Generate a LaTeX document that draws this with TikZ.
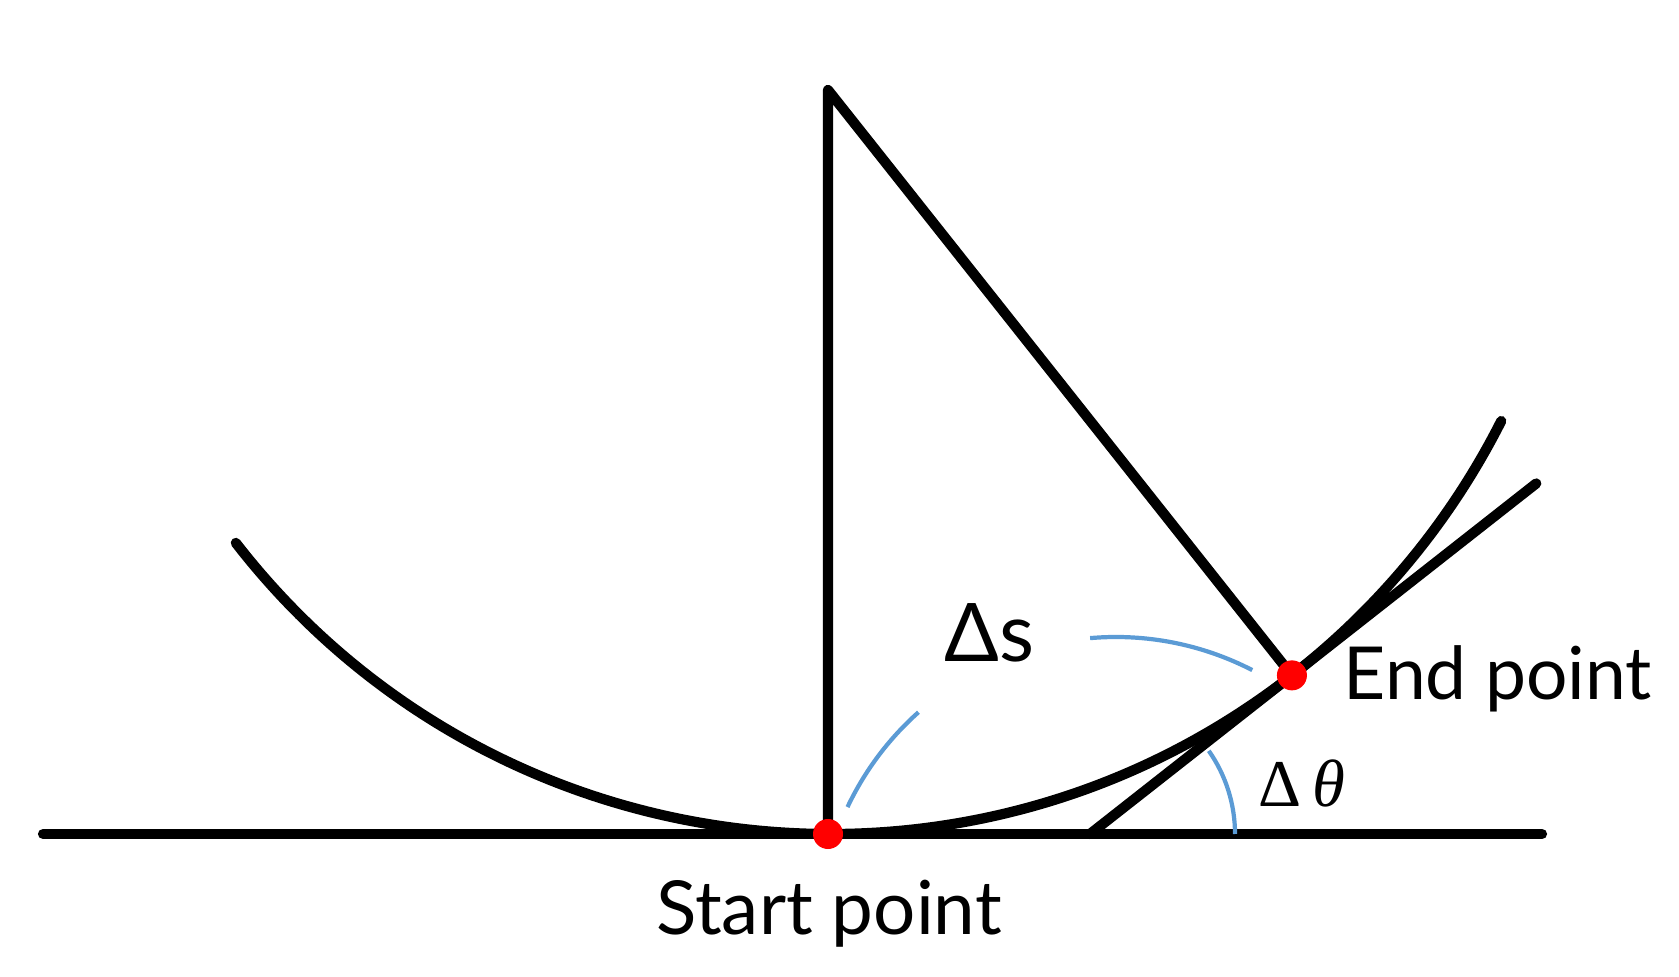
\documentclass[tikz,border=0pt]{standalone}
\usepackage{fontspec}
\setmainfont{Lato}
\newfontfamily\symfont{Liberation Serif}
\usetikzlibrary{calc}
\definecolor{arcblue}{RGB}{91,155,213}
\definecolor{dotred}{RGB}{255,0,0}
\begin{document}
\begin{tikzpicture}[x=0.01cm,y=0.01cm,
  heavy/.style={line width=2.9pt, line cap=round, line join=round},
  markarc/.style={arcblue, line width=1.2pt},
  dotnode/.style={circle, fill=dotred, inner sep=0pt, minimum size=0.3cm},
  lbl/.style={inner sep=0pt, font=\fontsize{21.2}{26}\selectfont}]
\useasboundingbox (0,0) rectangle (1679,-977);
\coordinate (O) at (830,-82);
\coordinate (A) at (828,-90);
\coordinate (S) at (828,-834);
\coordinate (E) at ($(O)+(307.9:752)$);
\coordinate (HL) at (43,-834);
\coordinate (HR) at (1542,-834);
\coordinate (T) at (1090,-834);
\coordinate (U) at ($(T)!2.21!(E)$);
\coordinate (B) at (1116,-934);
% lines
\draw[heavy] (HL) -- (HR);
\draw[heavy] ($(O)+(217.8:752)$) arc[start angle=217.8, end angle=333.2, radius=752];
\draw[heavy] (S) -- (A) -- (E);
\draw[heavy] (T) -- (U);
% blue marks
\draw[markarc] ($(B)+(154.7:297)$) arc[start angle=154.7, end angle=131.7, radius=297];
\draw[markarc] ($(B)+(95:297)$) arc[start angle=95, end angle=62.7, radius=297];
\draw[markarc] ($(T)+(0:145)$) arc[start angle=0, end angle=35, radius=145];
% points
\node[dotnode] (s) at (S) {};
\node[dotnode] (e) at (E) {};
% labels
\node[lbl, anchor=base] (st) at (829,-935) {Start point};
\node[lbl, anchor=base west, font=\fontsize{20.8}{26}\selectfont] (en) at (1343,-700) {End point};
\node[inner sep=0pt, anchor=base west, font=\fontsize{23}{28}\selectfont] (ds) at (944,-662) {Δs};
\node[inner sep=0pt, anchor=base west, font=\fontsize{19}{23}\selectfont\symfont] (dt) at (1258,-807) {Δ\,\textit{θ}};
\end{tikzpicture}
\end{document}
